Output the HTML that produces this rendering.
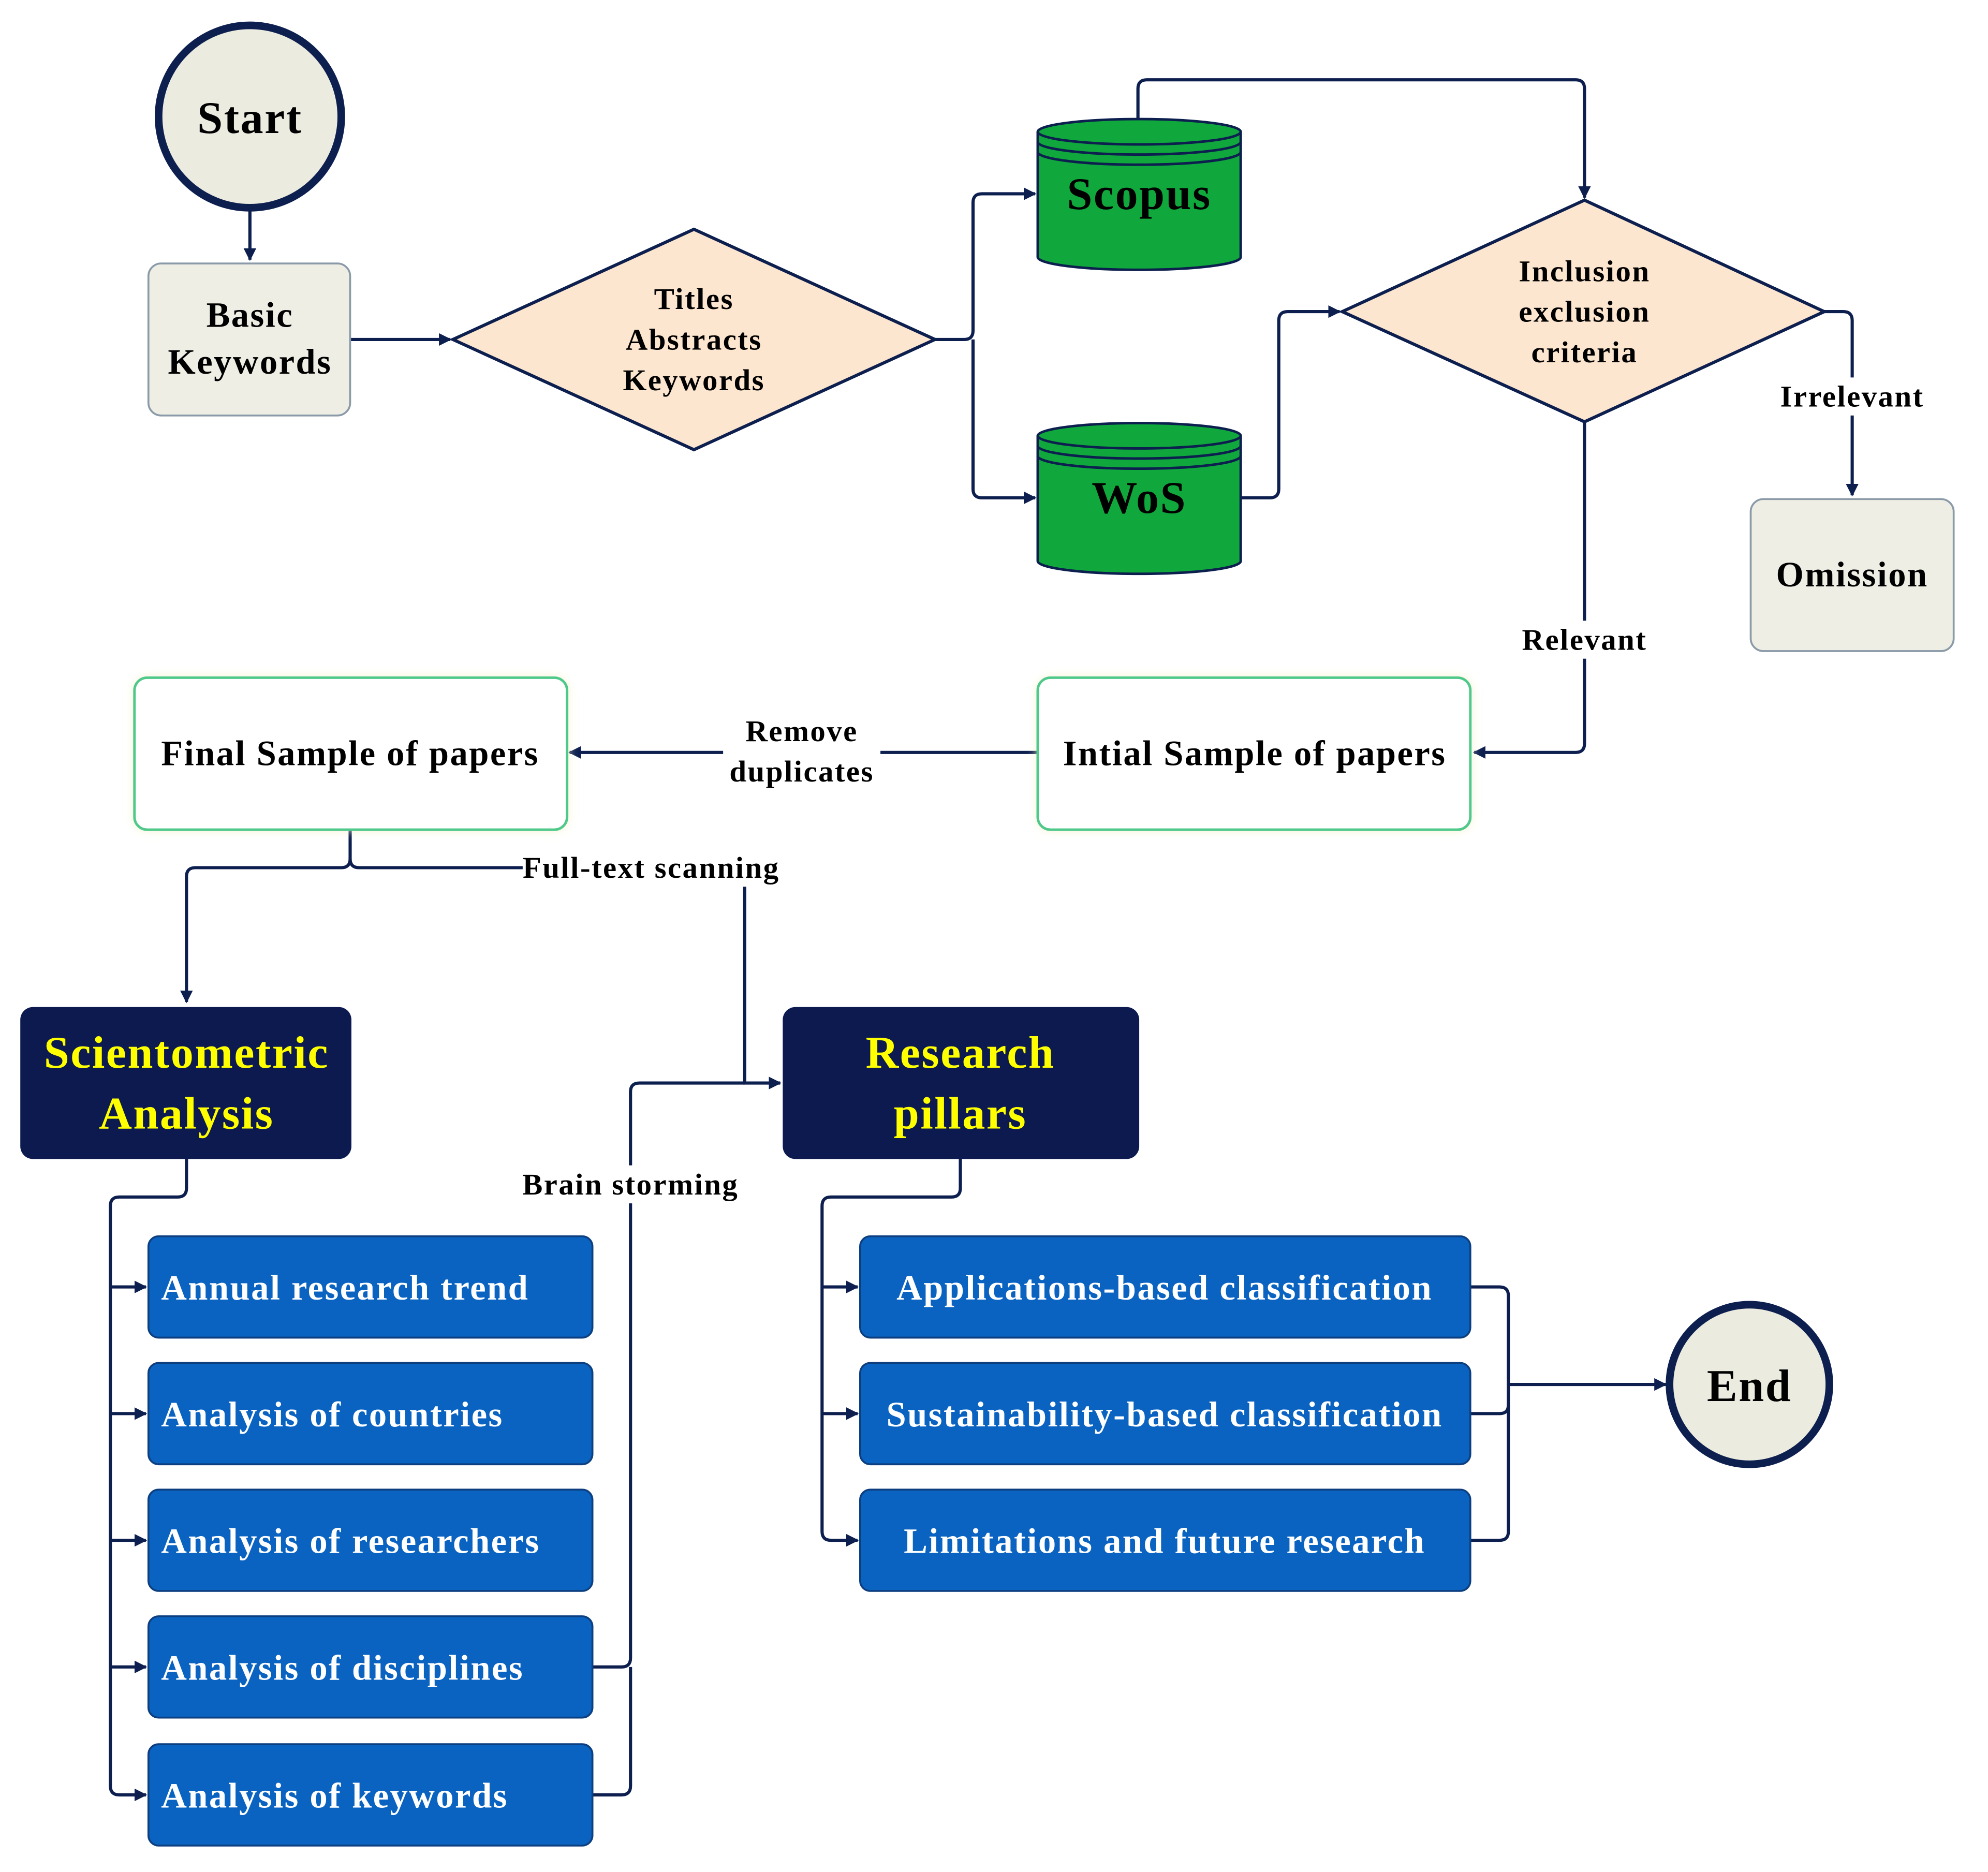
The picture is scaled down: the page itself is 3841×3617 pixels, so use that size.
<!DOCTYPE html>
<html><head><meta charset="utf-8"><style>
html,body{margin:0;padding:0;background:#fff;}
svg{display:block;}
text{font-family:"Liberation Serif",serif;font-weight:bold;letter-spacing:1px;}
</style></head><body>
<svg width="3841" height="3617" viewBox="0 0 1560 1469" xmlns="http://www.w3.org/2000/svg">
<defs>
<marker id="a" markerWidth="10" markerHeight="10" refX="9" refY="5" orient="auto" markerUnits="userSpaceOnUse"><path d="M0,0 L10,5 L0,10 Z" fill="#0d1f4f"/></marker>
<filter id="g" x="-10%" y="-20%" width="120%" height="140%"><feGaussianBlur stdDeviation="4"/></filter>
</defs>
<g transform="scale(0.9955,0.994)">
<g fill="none" stroke="#0d1f4f" stroke-width="2.5">
<path d="M197,165 V205" marker-end="url(#a)"/>
<path d="M276,268 H355" marker-end="url(#a)"/>
<path d="M737,268 H760 Q767,268 767,261 V160 Q767,153 774,153 H816" marker-end="url(#a)"/>
<path d="M767,268 V386 Q767,393 774,393 H816" marker-end="url(#a)"/>
<path d="M897,95 V70 Q897,63 904,63 H1242 Q1249,63 1249,70 V156" marker-end="url(#a)"/>
<path d="M978,393 H1001 Q1008,393 1008,386 V253 Q1008,246 1015,246 H1056" marker-end="url(#a)"/>
<path d="M1438,246 H1453 Q1460,246 1460,253 V391" marker-end="url(#a)"/>
<path d="M1249,333 V587 Q1249,594 1242,594 H1162" marker-end="url(#a)"/>
<path d="M818,594 H449" marker-end="url(#a)"/>
<path d="M276,655 V678 Q276,685 269,685 H154 Q147,685 147,692 V791" marker-end="url(#a)"/>
<path d="M276,678 Q276,685 283,685 H412"/>
<path d="M587,700 V855 H615" marker-end="url(#a)"/>
<path d="M467,1316 H490 Q497,1316 497,1309 V862 Q497,855 504,855 H587"/>
<path d="M467,1417 H490 Q497,1417 497,1410 V1316"/>
<path d="M147,915 V938 Q147,945 140,945 H94 Q87,945 87,952 V1410 Q87,1417 94,1417 H115" marker-end="url(#a)"/>
<path d="M87,1016 H115" marker-end="url(#a)"/>
<path d="M87,1116 H115" marker-end="url(#a)"/>
<path d="M87,1216 H115" marker-end="url(#a)"/>
<path d="M87,1316 H115" marker-end="url(#a)"/>
<path d="M757,915 V938 Q757,945 750,945 H655 Q648,945 648,952 V1209 Q648,1216 655,1216 H676" marker-end="url(#a)"/>
<path d="M648,1016 H676" marker-end="url(#a)"/>
<path d="M648,1116 H676" marker-end="url(#a)"/>
<path d="M1159,1016 H1182 Q1189,1016 1189,1023 V1209 Q1189,1216 1182,1216 H1159"/>
<path d="M1159,1116 H1182 Q1189,1116 1189,1109"/>
<path d="M1189,1093 H1313" marker-end="url(#a)"/>
</g>
<circle cx="197" cy="92" r="72" fill="#ecebdf" stroke="#0d1f4f" stroke-width="6"/>
<text x="197" y="105" font-size="36" text-anchor="middle">Start</text>
<rect x="117" y="208" width="159" height="120" rx="10" fill="#eeeee4" stroke="#8a9aa8" stroke-width="1.5"/>
<text x="197" y="258" font-size="28" text-anchor="middle">Basic</text>
<text x="197" y="295" font-size="28" text-anchor="middle">Keywords</text>
<polygon points="357,268 547,181 737,268 547,355" fill="#fde6cf" stroke="#0d1f4f" stroke-width="2.5"/>
<text x="547" y="244" font-size="24" text-anchor="middle">Titles</text>
<text x="547" y="276" font-size="24" text-anchor="middle">Abstracts</text>
<text x="547" y="308" font-size="24" text-anchor="middle">Keywords</text>
<g stroke="#0d1f4f" stroke-width="2">
<path d="M818,104 V203 A80,10 0 0 0 978,203 V104" fill="#10a83c"/>
<ellipse cx="898" cy="104" rx="80" ry="10" fill="#10a83c"/>
<path d="M818,112 A80,10 0 0 0 978,112 M818,120 A80,10 0 0 0 978,120" fill="none"/>
<path d="M818,344 V443 A80,10 0 0 0 978,443 V344" fill="#10a83c"/>
<ellipse cx="898" cy="344" rx="80" ry="10" fill="#10a83c"/>
<path d="M818,352 A80,10 0 0 0 978,352 M818,360 A80,10 0 0 0 978,360" fill="none"/>
</g>
<text x="898" y="165" font-size="36" text-anchor="middle">Scopus</text>
<text x="898" y="405" font-size="36" text-anchor="middle">WoS</text>
<polygon points="1058,246 1249,158 1438,246 1249,333" fill="#fde6cf" stroke="#0d1f4f" stroke-width="2.5"/>
<text x="1249" y="222" font-size="24" text-anchor="middle">Inclusion</text>
<text x="1249" y="254" font-size="24" text-anchor="middle">exclusion</text>
<text x="1249" y="286" font-size="24" text-anchor="middle">criteria</text>
<rect x="1398" y="298" width="124" height="30" fill="#fff"/>
<text x="1460" y="321" font-size="24" text-anchor="middle">Irrelevant</text>
<rect x="1380" y="394" width="160" height="120" rx="10" fill="#eeeee4" stroke="#8a9aa8" stroke-width="1.5"/>
<text x="1460" y="463" font-size="28" text-anchor="middle">Omission</text>
<rect x="1193" y="490" width="112" height="30" fill="#fff"/>
<text x="1249" y="513" font-size="24" text-anchor="middle">Relevant</text>
<rect x="818" y="535" width="341" height="120" rx="10" fill="#f4f2c8" filter="url(#g)"/>
<rect x="818" y="535" width="341" height="120" rx="10" fill="#fff" stroke="#4fc98a" stroke-width="2"/>
<text x="989" y="604" font-size="28" text-anchor="middle">Intial Sample of papers</text>
<rect x="106" y="535" width="341" height="120" rx="10" fill="#f4f2c8" filter="url(#g)"/>
<rect x="106" y="535" width="341" height="120" rx="10" fill="#fff" stroke="#4fc98a" stroke-width="2"/>
<text x="276" y="604" font-size="28" text-anchor="middle">Final Sample of papers</text>
<rect x="570" y="562" width="124" height="64" fill="#fff"/>
<text x="632" y="585" font-size="24" text-anchor="middle">Remove</text>
<text x="632" y="617" font-size="24" text-anchor="middle">duplicates</text>
<text x="412" y="693" font-size="24">Full-text scanning</text>
<rect x="408" y="920" width="180" height="30" fill="#fff"/>
<text x="497" y="943" font-size="24" text-anchor="middle">Brain storming</text>
<rect x="16" y="795" width="261" height="120" rx="10" fill="#0c1a4f"/>
<text x="147" y="843" font-size="36" fill="#ffff00" text-anchor="middle">Scientometric</text>
<text x="147" y="891" font-size="36" fill="#ffff00" text-anchor="middle">Analysis</text>
<rect x="617" y="795" width="281" height="120" rx="10" fill="#0c1a4f"/>
<text x="757" y="843" font-size="36" fill="#ffff00" text-anchor="middle">Research</text>
<text x="757" y="891" font-size="36" fill="#ffff00" text-anchor="middle">pillars</text>
<g fill="#0a63c0" stroke="#0d3f80" stroke-width="1.5">
<rect x="117" y="976" width="350" height="80" rx="8"/>
<rect x="117" y="1076" width="350" height="80" rx="8"/>
<rect x="117" y="1176" width="350" height="80" rx="8"/>
<rect x="117" y="1276" width="350" height="80" rx="8"/>
<rect x="117" y="1377" width="350" height="80" rx="8"/>
<rect x="678" y="976" width="481" height="80" rx="8"/>
<rect x="678" y="1076" width="481" height="80" rx="8"/>
<rect x="678" y="1176" width="481" height="80" rx="8"/>
</g>
<g fill="#fff" font-size="28" style="letter-spacing:1.3px">
<text x="127" y="1026">Annual research trend</text>
<text x="127" y="1126">Analysis of countries</text>
<text x="127" y="1226">Analysis of researchers</text>
<text x="127" y="1326">Analysis of disciplines</text>
<text x="127" y="1427">Analysis of keywords</text>
<text x="918" y="1026" text-anchor="middle">Applications-based classification</text>
<text x="918" y="1126" text-anchor="middle">Sustainability-based classification</text>
<text x="918" y="1226" text-anchor="middle">Limitations and future research</text>
</g>
<circle cx="1379" cy="1093" r="63" fill="#ecebdf" stroke="#0d1f4f" stroke-width="6"/>
<text x="1379" y="1106" font-size="36" text-anchor="middle">End</text>
</g>
</svg>
</body></html>
